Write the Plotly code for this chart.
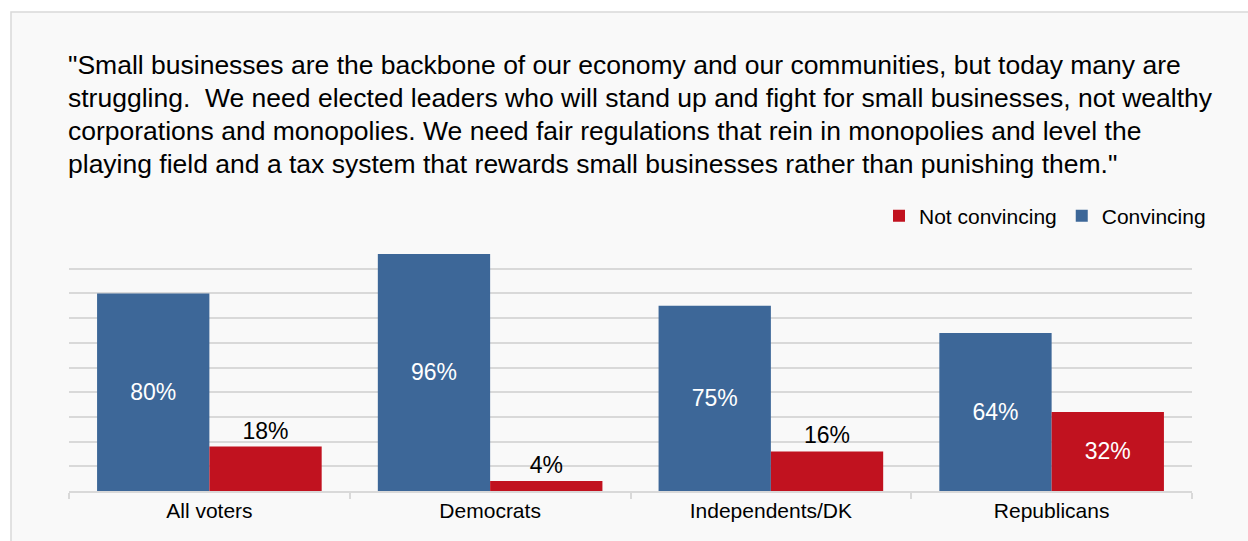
import plotly.graph_objects as go

categories = ["All voters", "Democrats", "Independents/DK", "Republicans"]
convincing = [80, 96, 75, 64]
not_convincing = [18, 4, 16, 32]
title_lines = [
    '"Small businesses are the backbone of our economy and our communities, but today many are',
    'struggling.  We need elected leaders who will stand up and fight for small businesses, not wealthy',
    'corporations and monopolies. We need fair regulations that rein in monopolies and level the',
    'playing field and a tax system that rewards small businesses rather than punishing them."',
]

BLUE = "#3D6798"
RED = "#C1121F"
FONT = "Liberation Sans, Arial, sans-serif"

L, R, T, B = 69, 56, 244, 50
W, H = 1248, 541
pw, ph = W - L - R, H - T - B

def px_x(x):
    return (x - L) / pw

def px_y(y):
    return (H - B - y) / ph

fig = go.Figure()
fig.add_trace(go.Bar(
    name="Convincing", x=categories, y=convincing,
    marker=dict(color=BLUE, line=dict(width=0)),
    text=[f"{v}%" for v in convincing],
    textposition="inside", insidetextanchor="middle",
    insidetextfont=dict(color="white", size=23, family=FONT),
    cliponaxis=False,
))
fig.add_trace(go.Bar(
    name="Not convincing", x=categories, y=not_convincing,
    marker=dict(color=RED, line=dict(width=0)),
    text=[f"{v}%" for v in not_convincing],
    textposition=["outside" if v < 25 else "inside" for v in not_convincing],
    insidetextanchor="middle",
    insidetextfont=dict(color="white", size=23, family=FONT),
    outsidetextfont=dict(color="black", size=23, family=FONT),
    cliponaxis=False,
))

fig.add_shape(type="rect", xref="paper", yref="paper",
              x0=px_x(11), x1=px_x(1300), y0=px_y(600), y1=px_y(12),
              fillcolor="#F9F9F9", line=dict(color="#D9D9D9", width=1.5),
              layer="below")

for i, line in enumerate(title_lines):
    fig.add_annotation(text=line, xref="paper", yref="paper",
                       x=px_x(66), y=px_y(65 + 33 * i), xanchor="left", yanchor="middle",
                       align="left", showarrow=False,
                       font=dict(size=26.5, color="black", family=FONT))

fig.update_layout(
    width=W, height=H,
    margin=dict(l=L, r=R, t=T, b=B, autoexpand=False),
    paper_bgcolor="white", plot_bgcolor="rgba(0,0,0,0)",
    barmode="group", bargap=0.2, bargroupgap=0,
    showlegend=True,
    legend=dict(orientation="h", traceorder="reversed",
                x=px_x(1211), y=px_y(216), xanchor="right", yanchor="middle",
                font=dict(size=21, color="black", family=FONT),
                bgcolor="rgba(0,0,0,0)", itemwidth=30),
    font=dict(family=FONT),
)
fig.update_xaxes(showgrid=False, showline=True, linecolor="#D9D9D9", linewidth=2,
                 ticks="outside", tickson="boundaries", ticklen=6,
                 tickcolor="#D9D9D9", tickwidth=2,
                 tickfont=dict(size=21, color="black", family=FONT))
fig.update_yaxes(range=[0, 100], dtick=10, showgrid=True, gridcolor="#D9D9D9",
                 gridwidth=2, showticklabels=False, zeroline=False, showline=False)

fig.write_html("out.html")
